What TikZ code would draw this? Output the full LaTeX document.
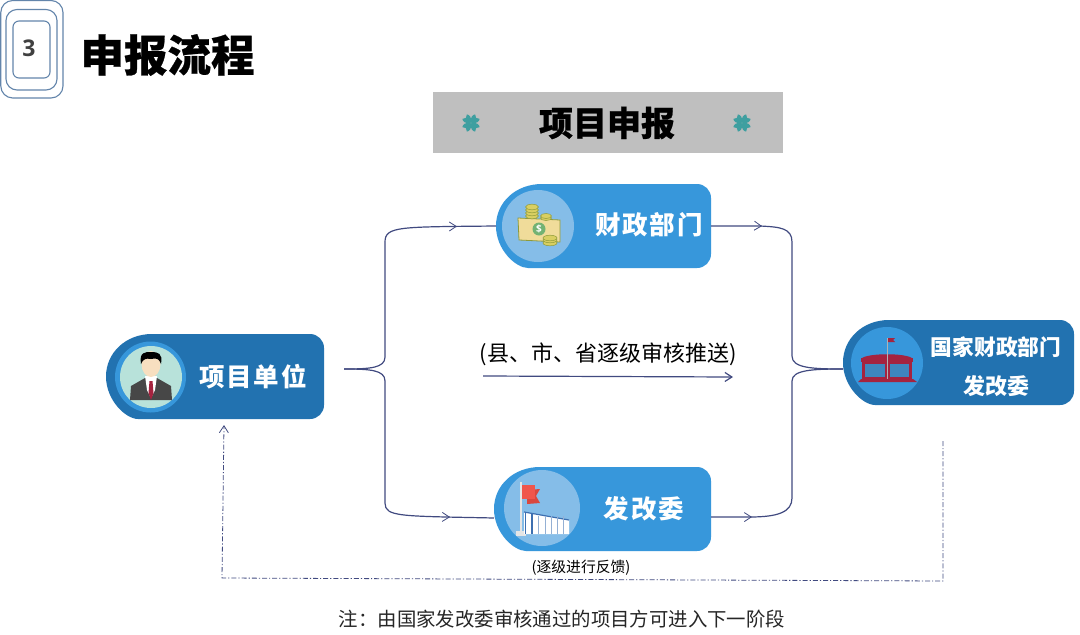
\documentclass[tikz,border=0pt]{standalone}
\usepackage{fontspec}
\setmainfont{Open Sans}
\newfontfamily\cjk{Noto Sans CJK SC}
\newfontfamily\cjkheavy[BoldFeatures={FakeBold=0.6}]{Noto Sans CJK SC}
\usetikzlibrary{arrows.meta,decorations.markings}
\definecolor{lineblue}{HTML}{414A80}
\definecolor{pilllight}{HTML}{3797DB}
\definecolor{pilldark}{HTML}{2272B0}
\definecolor{circlelight}{HTML}{85BDE8}
\definecolor{frameblue}{HTML}{6385AB}
\definecolor{tealicon}{HTML}{3F9FA0}
\definecolor{govred}{HTML}{A5233F}
\definecolor{coin}{HTML}{D9CF62}
\definecolor{coinedge}{HTML}{8E9A3A}
\definecolor{mint}{HTML}{B8E2DA}
\definecolor{skin}{HTML}{F7DFC0}
\definecolor{billfill}{HTML}{F0DC9A}
\definecolor{flaga}{HTML}{F0564C}
\definecolor{flagb}{HTML}{D9483F}
\definecolor{bldblue}{HTML}{3D6FB0}
\definecolor{pane}{HTML}{3F86BE}
\newcommand{\pillshape}[6]{%
  \node[pillbox,minimum width=#4-#2,minimum height=#5-#3] (#1) at ({(#2+#4)/2},{(#3+#5)/2}) {};
  \fill[#6] ({#2+46},#3) [rounded corners=14pt] -- (#4,#3) -- (#4,#5) -- ({#2+46},#5) [sharp corners]
     .. controls ({#2+20},#5) and (#2,{(#3+#5)/2+24}) .. (#2,{(#3+#5)/2})
     .. controls (#2,{(#3+#5)/2-24}) and ({#2+20},#3) .. ({#2+46},#3) -- cycle;
}
\newcommand{\clover}[1]{%
  \begin{scope}[shift={#1}]
    \foreach \a in {45,135,225,315}
      \fill[tealicon,rotate=\a,scale=.9] (.4,0) .. controls (3,-5) and (8,-5.5) .. (10,-3.5) -- (8,0) -- (10,3.5) .. controls (8,5.5) and (3,5) .. (.4,0) -- cycle;
  \end{scope}
}
\tikzset{
  x=1pt,y=-1pt,
  pillbox/.style={inner sep=0pt,outer sep=0pt,draw=none},
  framebox/.style={draw=frameblue,line width=1.1pt,fill=none},
  pilltext/.style={text=white,font=\fontsize{#1}{#1}\selectfont\cjk\bfseries,inner sep=0pt},
  flow/.style={draw=lineblue,line width=1.2pt},
  midtip/.style={postaction={decorate},decoration={markings,mark=at position #1 with {\arrow[line width=.8pt]{Straight Barb[length=7pt,width=9pt]}}}},
  feedback/.style={draw=lineblue,line width=.8pt,dash pattern=on 5pt off 2pt on 1.2pt off 2pt},
  plainlabel/.style={inner sep=0pt,font=\cjk},
}
\begin{document}
\begin{tikzpicture}
\useasboundingbox (0,0) rectangle (1080,635);
\fill[white] (0,0) rectangle (1080,635);

% heading frame
\draw[framebox,rounded corners=12pt] (.8,.5) rectangle (63,98);
\draw[framebox,rounded corners=11pt] (6,9.5) rectangle (57,90);
\draw[framebox,rounded corners=6pt] (13,21) rectangle (50,78);
\node[inner sep=0pt,text=black!75,font=\fontsize{23}{23}\selectfont\bfseries] (num) at (29,48) {3};
\node[inner sep=0pt,font=\fontsize{43.5}{44}\selectfont\cjkheavy\bfseries] (title) at (167.5,55) {申报流程};

% band
\node[fill=black!25,minimum width=350pt,minimum height=61pt,inner sep=0pt] (band) at (608,122.5) {};
\node[inner sep=0pt,font=\fontsize{34}{34}\selectfont\cjkheavy\bfseries] (bandtext) at (607,123) {项目申报};
\clover{(471,123)}
\clover{(742,123)}

% pills
\pillshape{unit}{106}{334}{324}{419}{pilldark}
\pillshape{fin}{496}{184}{711}{268}{pilllight}
\pillshape{ndrc}{494}{467}{711}{551}{pilllight}
\pillshape{nat}{843}{320}{1074}{405}{pilldark}

\node[pilltext=25.5] (unitlabel) at (253,377) {项\hspace{2pt}目\hspace{2pt}单\hspace{2pt}位};
\node[pilltext=25.5] (finlabel) at (649,225) {财\hspace{2pt}政\hspace{2pt}部\hspace{2pt}门};
\node[pilltext=25.5] (ndrclabel) at (644,509) {发\hspace{2pt}改\hspace{2pt}委};
\node[pilltext=21.7] (natlabel) at (996,347) {国家财政部门};
\node[pilltext=22] (natlabelb) at (996,386) {发改委};

% person icon
\fill[pilllight] (150.5,377) circle[radius=35.5];
\fill[mint] (151,377) circle[radius=31];
\fill[black!72] (130,400) -- (131,386) -- (145,378) -- (157,378) -- (171,386) -- (172,400) -- cycle;
\fill[white] (145,376) -- (157,376) -- (155,390) -- (151,398) -- (147,390) -- cycle;
\fill[govred] (149.5,381) -- (152.5,381) -- (153.5,393) -- (151,400) -- (148.5,393) -- cycle;
\fill[skin] (151,364) ellipse[x radius=9.5,y radius=13];
\fill[black] (141,364) .. controls (139,352) and (145,352) .. (151,352)
   .. controls (158,352) and (163,353) .. (161,364) .. controls (159,358) and (156,358) .. (151,359)
   .. controls (146,358) and (143,359) .. (141,364) -- cycle;

% money icon
\fill[circlelight] (538,226) circle[radius=36];
\draw[coinedge,fill=billfill,line width=.8pt] (518,218) -- (560,220) -- (560,242) -- (519,240) -- cycle;
\fill[green!45!black!55!white] (539,229) circle[radius=6.5];
\node[inner sep=0pt,text=white,font=\fontsize{10}{10}\selectfont\bfseries] (dollar) at (539,229) {\$};
\foreach \y in {216,213,210,207}
  \draw[coinedge,fill=coin,line width=.5pt] (532,\y) ellipse[x radius=6.5,y radius=2.8];
\foreach \y in {218,216}
  \draw[coinedge,fill=coin,line width=.5pt] (546,\y) ellipse[x radius=5.5,y radius=2.5];
\foreach \y in {243,240,238}
  \draw[coinedge,fill=coin,line width=.5pt] (550,\y) ellipse[x radius=7,y radius=2.8];

% flag icon
\fill[circlelight] (542,508) circle[radius=38];
\fill[black!10] (519.5,482) rectangle (521.5,533);
\fill[black!10] (516,531) rectangle (526,536);
\fill[flagb] (527,490) -- (540,489) -- (536,496) -- (540,503) -- (527,504) -- cycle;
\fill[flaga] (522,485) -- (535,485) -- (535,499) -- (522,499) -- cycle;
\fill[white] (524,512) -- (569,520) -- (569,534) -- (524,534) -- cycle;
\draw[bldblue,line width=1.2pt] (524,512) -- (569,520);
\draw[bldblue,line width=.9pt] (525,513) -- (525,534);
\draw[bldblue,line width=1.2pt] (532,514) -- (532,534);
\foreach \x in {538,545,551,557,563}
  \draw[bldblue!55!white,line width=.5pt] (\x,516) -- (\x,534);

% government icon
\fill[pilllight] (887,363) circle[radius=36];
\fill[govred] (862,358) .. controls (870,353) and (904,353) .. (912,358) -- cycle;
\fill[govred] (861,358) rectangle (913,362);
\fill[govred] (862,362) rectangle (912,379);
\fill[pane] (865,364) rectangle (885,377);
\fill[pane] (889.5,364) rectangle (909,377);
\fill[govred] (861,379) -- (913,379) -- (917,382) -- (858,382) -- cycle;
\fill[black!30] (886.5,338) rectangle (888,379);
\fill[govred] (888,338) -- (895,338) -- (893,340) -- (895,342) -- (888,342) -- cycle;

% connectors
\coordinate (splitL) at (344,369);
\coordinate (splitR) at (843,369);
\draw[flow,midtip=-39pt] (splitL) .. controls (370,369) and (385,368) .. (385,357)
   -- (385,242) .. controls (385,226) and (400,227) .. (fin.west);
\draw[flow,midtip=-44pt] (splitL) .. controls (370,369) and (385,370) .. (385,381)
   -- (385,503) .. controls (385,517) and (400,516) .. ([yshift=-9pt]ndrc.west);
\draw[flow,midtip=51pt] (fin.east) -- (760,226) .. controls (780,227) and (792,228) .. (792,242)
   -- (792,356) .. controls (792,368) and (812,369) .. (splitR);
\draw[flow,midtip=41pt] ([yshift=-8pt]ndrc.east) -- (750,517) .. controls (778,517) and (792,512) .. (792,498)
   -- (792,381) .. controls (792,370) and (812,369) .. (splitR);

\coordinate (midA) at (483,376);
\coordinate (midB) at (733,377);
\draw[flow,-{Straight Barb[length=7pt,width=9pt]}] (midA) -- (midB);
\node[plainlabel,font=\fontsize{22}{22}\selectfont\cjk] (midlabel) at (608,354) {(县、市、省逐级审核推送)};

\coordinate (fbStart) at (943,441);
\coordinate (fbA) at (943,581);
\coordinate (fbB) at (222,578);
\draw[feedback,-{Straight Barb[length=7pt,width=9pt]}] (fbStart) -- (fbA) -- (fbB) -- ([xshift=9pt,yshift=-6pt]unit.south);
\node[plainlabel,font=\fontsize{14.8}{15}\selectfont\cjk] (fblabel) at (581,568) {(逐级进行反馈)};
\node[plainlabel,text=black!85,font=\fontsize{19.4}{20}\selectfont\cjk] (note) at (562,619) {注：由国家发改委审核通过的项目方可进入下一阶段};
\end{tikzpicture}
\end{document}
